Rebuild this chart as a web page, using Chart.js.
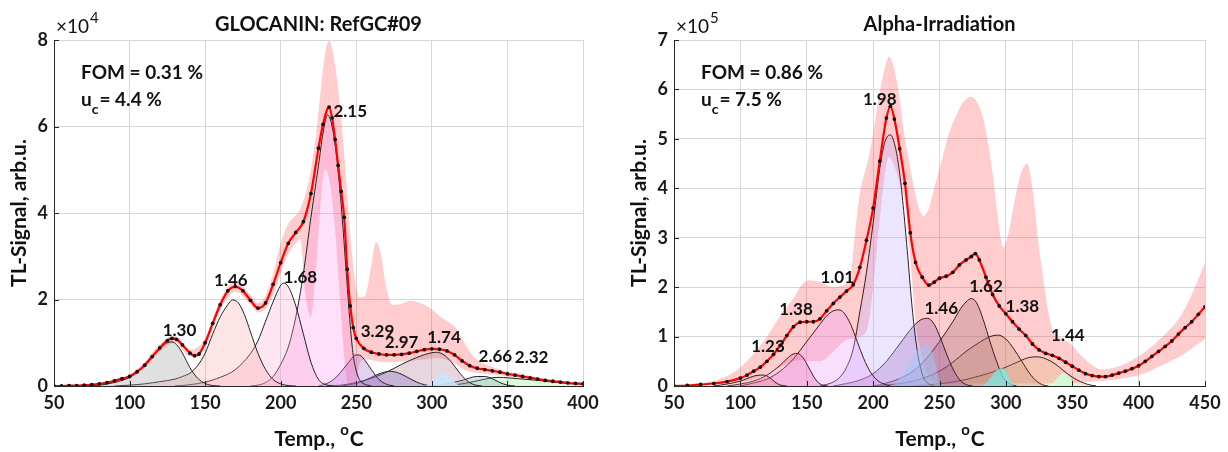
<!DOCTYPE html>
<html><head><meta charset="utf-8">
<script src="https://cdn.jsdelivr.net/npm/chart.js@4.4.1/dist/chart.umd.min.js"></script>
<style>
body{margin:0;background:#fff;width:1228px;height:452px;overflow:hidden;position:relative}
.c{position:absolute;top:0;width:614px;height:452px}
</style></head><body>
<div class="c" style="left:0"><canvas id="cl" width="614" height="452"></canvas></div>
<div class="c" style="left:614px"><canvas id="cr" width="614" height="452"></canvas></div>
<script>
// ---------- LEFT: GLOCANIN RefGC#09 (values x1e4) ----------
const L_fitT = [50,55,60,65,70,75,80,85,90,95,100,105,110,115,120,125,128,131,135,140,143,146,150,155,160,165,170,175,180,185,190,195,200,205,210,215,220,225,228,232,234,236,238,240,242,244,246,248,250,255,260,265,270,275,280,285,290,295,300,305,310,315,320,325,330,335,340,345,350,355,360,365,370,375,380,385,390,395,400];
const L_fitV = [0,0,0.01,0.01,0.02,0.03,0.05,0.08,0.12,0.17,0.22,0.33,0.48,0.68,0.88,1.05,1.1,1.08,0.95,0.76,0.7,0.74,1.0,1.45,1.88,2.2,2.3,2.2,1.98,1.8,1.92,2.35,2.85,3.3,3.55,3.8,4.45,5.5,6.05,6.45,6.2,5.7,5.1,4.5,3.9,2.7,1.85,1.35,1.1,0.87,0.78,0.74,0.72,0.72,0.73,0.76,0.8,0.84,0.86,0.85,0.81,0.72,0.58,0.47,0.41,0.38,0.35,0.32,0.28,0.25,0.22,0.19,0.16,0.13,0.11,0.09,0.07,0.06,0.05];
const L_c1T = [70,80,90,100,105,110,115,120,125,128,131,135,140,145,150,155,160];
const L_c1V = [0,0.02,0.08,0.2,0.32,0.5,0.7,0.88,1.0,1.02,0.96,0.76,0.42,0.18,0.06,0.01,0];
const L_c2T = [90,100,110,120,130,135,140,145,150,155,160,165,168,172,176,180,185,190,195,200,205,210];
const L_c2V = [0,0.02,0.05,0.1,0.16,0.22,0.3,0.47,0.76,1.2,1.6,1.88,1.99,1.92,1.65,1.25,0.75,0.38,0.15,0.05,0.01,0];
const L_c3T = [130,140,150,160,170,180,185,190,195,200,202,205,210,215,220,225,230,235];
const L_c3V = [0,0.03,0.09,0.2,0.38,0.75,1.05,1.5,1.95,2.33,2.38,2.3,1.85,1.2,0.55,0.15,0.03,0];
const L_c4T = [180,185,190,195,200,205,210,215,220,225,228,231,234,237,240,243,246,248,250,252,255,260];
const L_c4V = [0,0.02,0.08,0.22,0.5,0.9,1.6,2.6,3.9,5.1,5.85,6.27,6.0,5.3,4.2,2.8,1.4,0.7,0.35,0.15,0.05,0];
const L_c5T = [225,230,235,240,245,250,253,256,260,265,270,275];
const L_c5V = [0,0.05,0.15,0.33,0.55,0.72,0.7,0.58,0.38,0.15,0.04,0];
const L_c6T = [240,250,255,260,265,272,278,285,290,295,300];
const L_c6V = [0,0.06,0.12,0.2,0.28,0.34,0.3,0.18,0.09,0.03,0];
const L_c7T = [230,240,250,260,270,280,290,300,303,308,313,318,323,328,333];
const L_c7V = [0,0.02,0.08,0.18,0.32,0.5,0.66,0.77,0.78,0.72,0.55,0.32,0.13,0.03,0];
const L_c8T = [300,310,320,330,335,340,345,350,355];
const L_c8V = [0,0.05,0.13,0.22,0.22,0.17,0.08,0.02,0];
const L_c9T = [310,320,330,340,345,350,360,370,380,390,400];
const L_c9V = [0,0.05,0.12,0.19,0.2,0.19,0.16,0.13,0.09,0.06,0.04];
const L_c10T = [296,300,305,308,312,316,320];
const L_c10V = [0,0.12,0.28,0.3,0.2,0.06,0];
const L_bandT = [50,70,90,100,110,120,130,140,150,160,170,180,185,190,195,200,205,210,213,216,220,224,229,232,236,240,243,246,249,252,256,260,263,266,270,274,280,286,292,298,304,310,315,320,325,330,340,350,360,370,380,390,400];
const L_bandHi = [0.01,0.03,0.14,0.27,0.55,0.97,1.15,0.84,1.1,2.0,2.42,2.1,1.92,2.1,2.6,3.3,3.75,3.95,4.1,4.4,5.0,6.0,7.6,7.98,7.4,6.2,4.9,3.5,2.5,2.05,2.1,2.8,3.33,3.1,2.25,1.87,1.9,1.97,1.92,1.82,1.65,1.5,1.38,1.1,0.8,0.6,0.44,0.34,0.27,0.2,0.15,0.1,0.07];
const L_bandLo = [0,0.01,0.1,0.18,0.42,0.8,1.0,0.68,0.9,1.75,2.18,1.88,1.7,1.78,2.1,2.6,3.05,3.3,3.4,2.2,1.6,3.0,5.0,4.8,3.6,1.6,0.3,0,0,0.5,0.62,0.6,0.58,0.56,0.55,0.55,0.56,0.58,0.6,0.63,0.65,0.6,0.52,0.4,0.33,0.3,0.27,0.22,0.17,0.13,0.09,0.06,0.04];
const L_labels = ['1.30','1.46','1.68','2.15','3.29','2.97','1.74','2.66','2.32'];
const L_labT = [133,167,213,246,264,280,308,342,366];
const L_labV = [1.29,2.43,2.5,6.34,1.27,1.0,1.13,0.68,0.65];
const L_yTicks = [0,2,4,6,8];
const L_xTicks = [50,100,150,200,250,300,350,400];

// ---------- RIGHT: Alpha-Irradiation (values x1e5) ----------
const R_fitT = [50,60,70,80,90,100,105,110,115,120,125,130,135,140,145,150,155,160,165,170,175,180,185,190,195,200,205,210,213,216,220,224,228,232,237,242,246,250,255,260,265,270,274,277,280,285,290,295,300,305,310,315,320,325,330,335,340,345,350,355,360,365,370,375,380,385,390,395,400,405,410,415,420,425,430,435,440,445,450];
const R_fitV = [0,0.01,0.03,0.05,0.09,0.16,0.22,0.3,0.38,0.5,0.64,0.82,1.02,1.2,1.29,1.3,1.3,1.36,1.52,1.67,1.8,1.92,2.05,2.4,2.95,3.6,4.55,5.42,5.66,5.4,4.8,4.1,3.1,2.5,2.2,2.04,2.1,2.18,2.22,2.3,2.45,2.55,2.62,2.68,2.55,2.2,1.85,1.62,1.46,1.3,1.15,1.02,0.85,0.73,0.66,0.62,0.56,0.48,0.4,0.32,0.25,0.21,0.19,0.19,0.22,0.26,0.3,0.35,0.41,0.5,0.6,0.7,0.8,0.91,1.05,1.18,1.3,1.45,1.6];
const R_c1T = [80,90,100,105,110,115,118,122,126,130,135];
const R_c1V = [0,0.04,0.1,0.15,0.2,0.22,0.22,0.17,0.08,0.02,0];
const R_c2T = [90,100,110,120,130,135,140,143,147,151,155,159,163,166];
const R_c2V = [0,0.04,0.1,0.22,0.42,0.55,0.65,0.66,0.58,0.4,0.2,0.06,0.01,0];
const R_c3T = [100,110,120,130,140,150,160,165,170,174,178,183,188,193,198,203,208,213];
const R_c3V = [0,0.06,0.14,0.3,0.55,0.9,1.25,1.42,1.52,1.54,1.48,1.25,0.9,0.55,0.28,0.12,0.04,0];
const R_c4T = [160,170,175,180,185,190,195,200,205,209,213,217,220,223,226,229,232,235,238,242,246];
const R_c4V = [0,0.08,0.18,0.38,0.75,1.5,2.3,3.3,4.4,4.95,5.08,4.8,4.3,3.55,2.65,1.7,0.95,0.45,0.17,0.04,0];
const R_c5T = [170,180,190,200,210,220,230,236,241,246,251,256,261,266,271,275];
const R_c5V = [0,0.05,0.12,0.25,0.5,0.85,1.2,1.34,1.37,1.25,0.95,0.6,0.3,0.1,0.02,0];
const R_c6T = [200,210,220,230,240,250,260,266,270,274,278,283,288,293,298,303,308];
const R_c6V = [0,0.06,0.15,0.3,0.55,0.9,1.3,1.57,1.7,1.77,1.68,1.34,0.9,0.5,0.17,0.04,0];
const R_c7T = [200,210,220,230,240,250,260,270,280,288,294,300,306,312,318,323,328,332];
const R_c7V = [0,0.02,0.05,0.1,0.18,0.3,0.48,0.7,0.88,1.0,1.03,0.95,0.75,0.5,0.25,0.1,0.02,0];
const R_c8T = [230,240,260,280,300,310,318,324,330,337,343,350,356,362,368];
const R_c8V = [0,0.02,0.08,0.2,0.38,0.5,0.58,0.59,0.55,0.45,0.32,0.18,0.09,0.03,0];
const R_c9T = [332,336,340,343,347,351,355];
const R_c9V = [0,0.08,0.2,0.26,0.2,0.07,0];
const R_c10T = [283,288,293,297,300,303,306];
const R_c10V = [0,0.15,0.32,0.36,0.3,0.12,0];
const R_c11T = [215,225,233,240,245,249,251];
const R_c11V = [0,0.35,0.72,0.85,0.65,0.2,0];
const R_bandT = [50,60,70,80,90,100,110,120,130,140,145,152,160,170,178,183,186,190,196,200,204,208,212,216,220,224,228,232,235,238,242,247,252,257,263,268,274,279,283,286,290,294,298,302,307,312,316,320,324,328,332,336,343,350,355,360,365,371,380,390,400,410,420,430,440,450];
const R_bandHi = [0.01,0.03,0.06,0.1,0.2,0.38,0.65,1.0,1.42,1.78,2.0,2.14,2.1,2.0,2.05,2.25,3.0,3.9,4.55,5.1,5.8,6.35,6.66,6.4,5.8,5.0,4.4,3.85,3.55,3.44,3.6,4.1,4.6,5.1,5.5,5.75,5.85,5.7,5.4,5.0,4.3,3.4,2.8,3.1,3.8,4.35,4.5,4.0,3.0,2.2,1.5,1.07,0.95,0.82,0.66,0.53,0.42,0.34,0.36,0.45,0.6,0.8,1.05,1.35,1.85,2.5];
const R_bandLo = [0,0,0.01,0.02,0.04,0.08,0.14,0.24,0.38,0.5,0.52,0.5,0.5,0.7,0.9,0.95,0.95,1.0,1.2,2.0,3.1,4.1,4.64,4.45,4.1,3.7,2.6,1.3,0.8,0.45,0.2,0.1,0.05,0.05,0.05,0.05,0.05,0.05,0.05,0.05,0.05,0.05,0.05,0.05,0.05,0.05,0.05,0.05,0.05,0.05,0.05,0.05,0.05,0.06,0.07,0.08,0.09,0.1,0.12,0.16,0.22,0.32,0.45,0.58,0.76,0.95];
const R_labels = ['1.23','1.38','1.01','1.98','1.46','1.62','1.38','1.44'];
const R_labT = [120.8,141.9,173,205,251.3,285,312.4,346.7];
const R_labV = [0.8,1.55,2.19,5.8,1.57,2.02,1.6,1.03];
const R_yTicks = [0,1,2,3,4,5,6,7];
const R_xTicks = [50,100,150,200,250,300,350,400,450];

const FONT = 'Lato, "Open Sans", sans-serif';
const mk = (T, V) => T.map((t, i) => ({x: t, y: V[i]}));

function textPlugin(cfg) {
  return {
    id: 'txt',
    afterDatasetsDraw(chart) {
      const {ctx, chartArea: a, scales: {x, y}} = chart;
      ctx.save();
      ctx.strokeStyle = '#262626'; ctx.lineWidth = 1;
      ctx.beginPath();
      cfg.xTicks.forEach(v => { const px = Math.round(x.getPixelForValue(v)) + 0.5; ctx.moveTo(px, a.bottom); ctx.lineTo(px, a.bottom - 5); });
      cfg.yTicks.forEach(v => { const py = Math.round(y.getPixelForValue(v)) + 0.5; ctx.moveTo(a.left, py); ctx.lineTo(a.left + 5, py); });
      ctx.stroke();
      ctx.fillStyle = '#111';
      ctx.font = 'bold 17px ' + FONT;
      ctx.textAlign = 'center'; ctx.textBaseline = 'middle';
      cfg.labels.forEach((s, i) => ctx.fillText(s, x.getPixelForValue(cfg.labT[i]), y.getPixelForValue(cfg.labV[i])));
      ctx.restore();
    },
    afterDraw(chart) {
      const {ctx, chartArea: a} = chart;
      ctx.save();
      ctx.fillStyle = '#111';
      ctx.font = 'bold 20px ' + FONT; ctx.textAlign = 'center'; ctx.textBaseline = 'middle';
      ctx.fillText(cfg.title, (a.left + a.right) / 2, 25);
      ctx.textAlign = 'left'; ctx.textBaseline = 'alphabetic';
      ctx.font = '19px ' + FONT;
      ctx.fillText('\u00d710', a.left + 2, 33);
      const w10 = ctx.measureText('\u00d710').width;
      ctx.font = '15px ' + FONT;
      ctx.fillText(cfg.exp, a.left + 3 + w10, 23);
      ctx.font = 'bold 19px ' + FONT; ctx.textBaseline = 'middle';
      const fx = a.left + 27;
      ctx.fillText('FOM = ' + cfg.fom + ' %', fx, 73);
      ctx.fillText('u', fx, 100);
      const wu = ctx.measureText('u').width;
      ctx.font = 'bold 14px ' + FONT;
      ctx.fillText('c', fx + wu, 109);
      const wc = ctx.measureText('c').width;
      ctx.font = 'bold 19px ' + FONT;
      ctx.fillText('= ' + cfg.uc + ' %', fx + wu + wc + 1, 100);
      ctx.font = 'bold 21px ' + FONT;
      const p1 = 'Temp., ', p3 = 'C';
      const w1 = ctx.measureText(p1).width, w3 = ctx.measureText(p3).width;
      ctx.font = 'bold 15px ' + FONT;
      const w2 = ctx.measureText('o').width;
      let sx = (a.left + a.right) / 2 - (w1 + w2 + w3) / 2;
      ctx.font = 'bold 21px ' + FONT;
      ctx.fillText(p1, sx, 439);
      ctx.font = 'bold 15px ' + FONT;
      ctx.fillText('o', sx + w1, 430);
      ctx.font = 'bold 21px ' + FONT;
      ctx.fillText(p3, sx + w1 + w2 + 1, 439);
      ctx.translate(cfg.yTitleX, (a.top + a.bottom) / 2);
      ctx.rotate(-Math.PI / 2);
      ctx.textAlign = 'center';
      ctx.font = 'bold 21px ' + FONT;
      ctx.fillText('TL-Signal, arb.u.', 0, 0);
      ctx.restore();
    }
  };
}

function build(id, cfg) {
  const ds = [];
  ds.push({data: mk(cfg.fitT, cfg.fitV), showLine: false, pointRadius: 1.9, pointBackgroundColor: '#111', pointBorderWidth: 0, order: 0});
  ds.push({data: mk(cfg.fitT, cfg.fitV), borderColor: '#ff0000', borderWidth: 2.2, pointRadius: 0, cubicInterpolationMode: 'monotone', fill: false, order: 1});
  cfg.comps.forEach(c => ds.push({data: mk(c.t, c.v), borderColor: c.line || cfg.lineCol, borderWidth: 1, backgroundColor: c.fill, fill: 'origin', pointRadius: 0, cubicInterpolationMode: 'monotone', order: c.order || 2}));
  const lo = ds.length;
  ds.push({data: mk(cfg.bandT, cfg.bandLo), borderColor: 'rgba(0,0,0,0)', borderWidth: 1, pointRadius: 0, fill: false, cubicInterpolationMode: 'monotone', order: 3});
  ds.push({data: mk(cfg.bandT, cfg.bandHi), borderColor: 'rgba(0,0,0,0)', borderWidth: 1, pointRadius: 0, fill: lo, backgroundColor: 'rgba(255,70,70,0.27)', cubicInterpolationMode: 'monotone', order: 3});
  const tickFont = {family: FONT, size: 18, weight: 'bold'};
  new Chart(document.getElementById(id), {
    type: 'line',
    data: {datasets: ds},
    options: {
      responsive: false, animation: false, events: [],
      layout: {padding: {left: 0, right: cfg.padR, top: 40, bottom: 0}},
      plugins: {legend: {display: false}, tooltip: {enabled: false}},
      scales: {
        x: {type: 'linear', min: cfg.xTicks[0], max: cfg.xTicks[cfg.xTicks.length - 1],
            afterBuildTicks: s => { s.ticks = cfg.xTicks.map(v => ({value: v})); },
            ticks: {font: tickFont, color: '#1a1a1a', padding: 6, maxRotation: 0},
            grid: {color: '#d6d6d6', lineWidth: 1, drawTicks: false},
            border: {display: true, color: '#262626', width: 1},
            afterFit: s => { s.height = 66; }},
        y: {type: 'linear', min: 0, max: cfg.yTicks[cfg.yTicks.length - 1],
            afterBuildTicks: s => { s.ticks = cfg.yTicks.map(v => ({value: v})); },
            ticks: {font: tickFont, color: '#1a1a1a', padding: 6},
            grid: {color: '#d6d6d6', lineWidth: 1, drawTicks: false},
            border: {display: true, color: '#262626', width: 1},
            afterFit: s => { s.width = cfg.yW; }}
      }
    },
    plugins: [textPlugin(cfg)]
  });
}

build('cl', {
  title: 'GLOCANIN: RefGC#09', exp: '4', fom: '0.31', uc: '4.4', yTitleX: 19,
  padR: 31, yW: 54, lineCol: '#222',
  fitT: L_fitT, fitV: L_fitV, bandT: L_bandT, bandHi: L_bandHi, bandLo: L_bandLo,
  labels: L_labels, labT: L_labT, labV: L_labV, xTicks: L_xTicks, yTicks: L_yTicks,
  comps: [
    {t: L_c10T, v: L_c10V, fill: 'rgba(200,230,255,0.9)', line: 'rgba(0,0,0,0)', order: 1.5},
    {t: L_c1T, v: L_c1V, fill: 'rgba(160,160,160,0.32)'},
    {t: L_c2T, v: L_c2V, fill: 'rgba(250,160,160,0.28)'},
    {t: L_c3T, v: L_c3V, fill: 'rgba(250,160,210,0.28)'},
    {t: L_c4T, v: L_c4V, fill: 'rgba(255,130,235,0.26)'},
    {t: L_c5T, v: L_c5V, fill: 'rgba(170,110,210,0.32)'},
    {t: L_c6T, v: L_c6V, fill: 'rgba(120,100,200,0.3)'},
    {t: L_c7T, v: L_c7V, fill: 'rgba(180,120,150,0.3)'},
    {t: L_c8T, v: L_c8V, fill: 'rgba(120,170,170,0.3)'},
    {t: L_c9T, v: L_c9V, fill: 'rgba(140,235,150,0.32)'}
  ]
});

build('cr', {
  title: 'Alpha-Irradiation', exp: '5', fom: '0.86', uc: '7.5', yTitleX: 25,
  padR: 23, yW: 60, lineCol: '#3a1c1c',
  fitT: R_fitT, fitV: R_fitV, bandT: R_bandT, bandHi: R_bandHi, bandLo: R_bandLo,
  labels: R_labels, labT: R_labT, labV: R_labV, xTicks: R_xTicks, yTicks: R_yTicks,
  comps: [
    {t: R_c9T, v: R_c9V, fill: 'rgba(205,255,220,0.9)', line: 'rgba(0,0,0,0)', order: 1.5},
    {t: R_c10T, v: R_c10V, fill: 'rgba(120,235,230,0.75)', line: 'rgba(0,0,0,0)', order: 1.5},
    {t: R_c11T, v: R_c11V, fill: 'rgba(160,200,255,0.5)', line: 'rgba(0,0,0,0)'},
    {t: R_c1T, v: R_c1V, fill: 'rgba(240,120,140,0.3)'},
    {t: R_c2T, v: R_c2V, fill: 'rgba(235,90,160,0.3)'},
    {t: R_c3T, v: R_c3V, fill: 'rgba(235,150,250,0.3)'},
    {t: R_c4T, v: R_c4V, fill: 'rgba(190,170,255,0.3)'},
    {t: R_c5T, v: R_c5V, fill: 'rgba(150,90,170,0.33)'},
    {t: R_c6T, v: R_c6V, fill: 'rgba(160,100,110,0.3)'},
    {t: R_c7T, v: R_c7V, fill: 'rgba(190,140,110,0.3)'},
    {t: R_c8T, v: R_c8V, fill: 'rgba(225,180,120,0.3)'}
  ]
});
</script>
</body></html>
